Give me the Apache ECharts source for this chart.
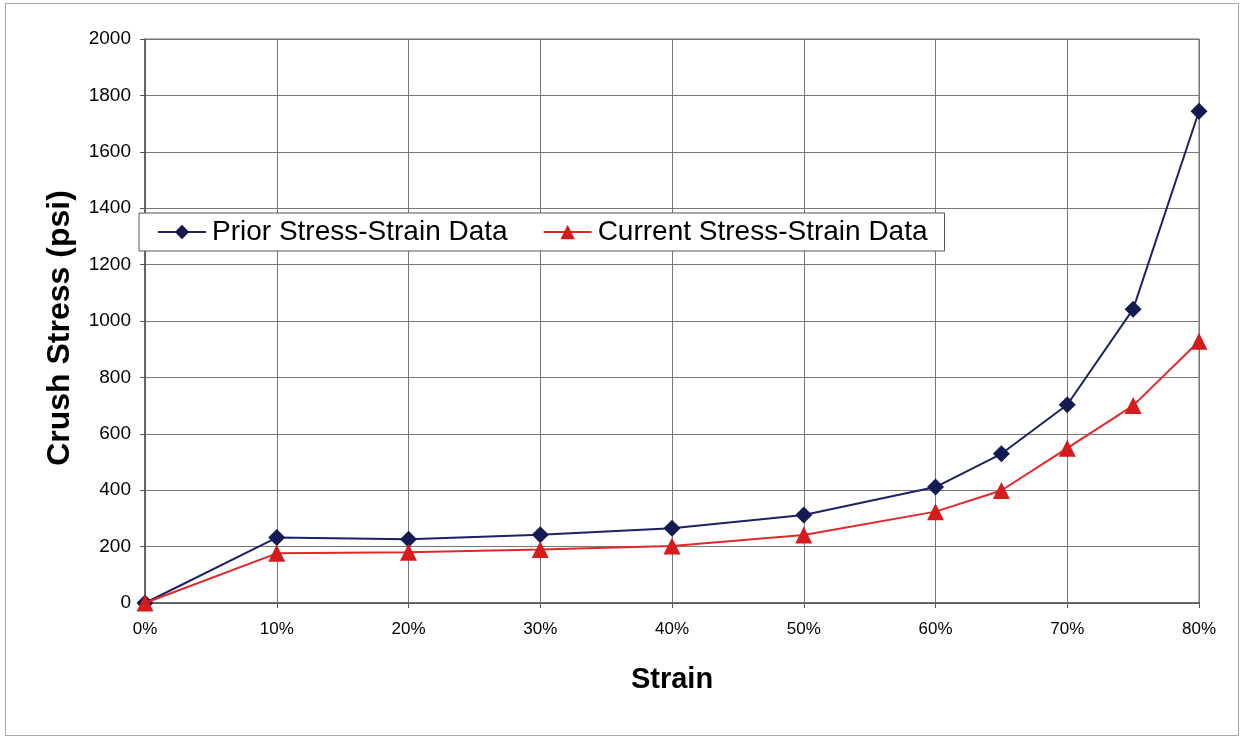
<!DOCTYPE html>
<html>
<head>
<meta charset="utf-8">
<script src="https://cdn.jsdelivr.net/npm/echarts@6/dist/echarts.min.js"></script>
<style>
html,body{margin:0;padding:0;background:#fff;}
#frame{position:absolute;left:5px;top:3px;width:1234px;height:733px;border:1px solid #a8a8a8;box-sizing:border-box;}
#chart{position:absolute;left:0;top:0;width:1243px;height:741px;}
</style>
</head>
<body>
<div id="frame"></div>
<div id="chart"></div>
<script>
const strain = [0, 10, 20, 30, 40, 50, 60, 65, 70, 75, 80];
const priorStress = [0, 232, 226, 242, 265, 312, 411, 529, 703, 1042, 1744];
const currentStress = [0, 176, 180, 190, 202, 241, 324, 399, 549, 700, 928];
const seriesNames = ['Prior Stress-Strain Data', 'Current Stress-Strain Data'];
const xTitle = 'Strain';
const yTitle = 'Crush Stress (psi)';

const font = '"Liberation Sans", Arial, sans-serif';
const chart = echarts.init(document.getElementById('chart'), null, {renderer: 'canvas'});
const pairs = (xs, ys) => xs.map((x, i) => [x, ys[i]]);

chart.setOption({
  animation: false,
  backgroundColor: 'transparent',
  textStyle: {fontFamily: font},
  grid: {left: 145, right: 44, top: 39, bottom: 138, show: true, borderColor: '#666', borderWidth: 1},
  legend: {
    left: 139, top: 213,
    orient: 'horizontal',
    backgroundColor: '#fff',
    borderColor: '#555', borderWidth: 1,
    padding: [5, 17, 5, 18],
    itemGap: 35,
    itemWidth: 48, itemHeight: 18,
    textStyle: {fontFamily: font, fontSize: 28, color: '#000', padding: [0, 0, 0, 1]},
    data: seriesNames
  },
  xAxis: {
    type: 'value', min: 0, max: 80, interval: 10,
    name: xTitle, nameLocation: 'middle', nameGap: 62,
    nameTextStyle: {fontFamily: font, fontSize: 29, fontWeight: 'bold', color: '#000'},
    axisLine: {show: true, lineStyle: {color: '#555', width: 1.5}},
    axisTick: {show: true, length: 5, lineStyle: {color: '#555'}},
    axisLabel: {formatter: '{value}%', fontSize: 17, color: '#000', margin: 18, fontFamily: font},
    splitLine: {show: true, lineStyle: {color: '#777', width: 1}}
  },
  yAxis: {
    type: 'value', min: 0, max: 2000, interval: 200,
    name: yTitle, nameLocation: 'middle', nameGap: 69, nameRotate: 90,
    nameTextStyle: {fontFamily: font, fontSize: 32, fontWeight: 'bold', color: '#000', padding: [0, 14, 0, 0]},
    axisLine: {show: true, lineStyle: {color: '#555', width: 1.5}},
    axisTick: {show: true, length: 5, lineStyle: {color: '#555'}},
    axisLabel: {formatter: v => String(v), fontSize: 19, color: '#000', margin: 14, fontFamily: font},
    splitLine: {show: true, lineStyle: {color: '#777', width: 1}}
  },
  series: [
    {
      name: seriesNames[0], type: 'line',
      data: pairs(strain, priorStress),
      symbol: 'diamond', symbolSize: 17,
      lineStyle: {color: '#1c2263', width: 2},
      itemStyle: {color: '#141a52'},
      z: 3
    },
    {
      name: seriesNames[1], type: 'line',
      data: pairs(strain, currentStress),
      symbol: 'triangle', symbolSize: 17,
      lineStyle: {color: '#e02828', width: 2},
      itemStyle: {color: '#d41c1c'},
      z: 4
    }
  ]
});
</script>
</body>
</html>
